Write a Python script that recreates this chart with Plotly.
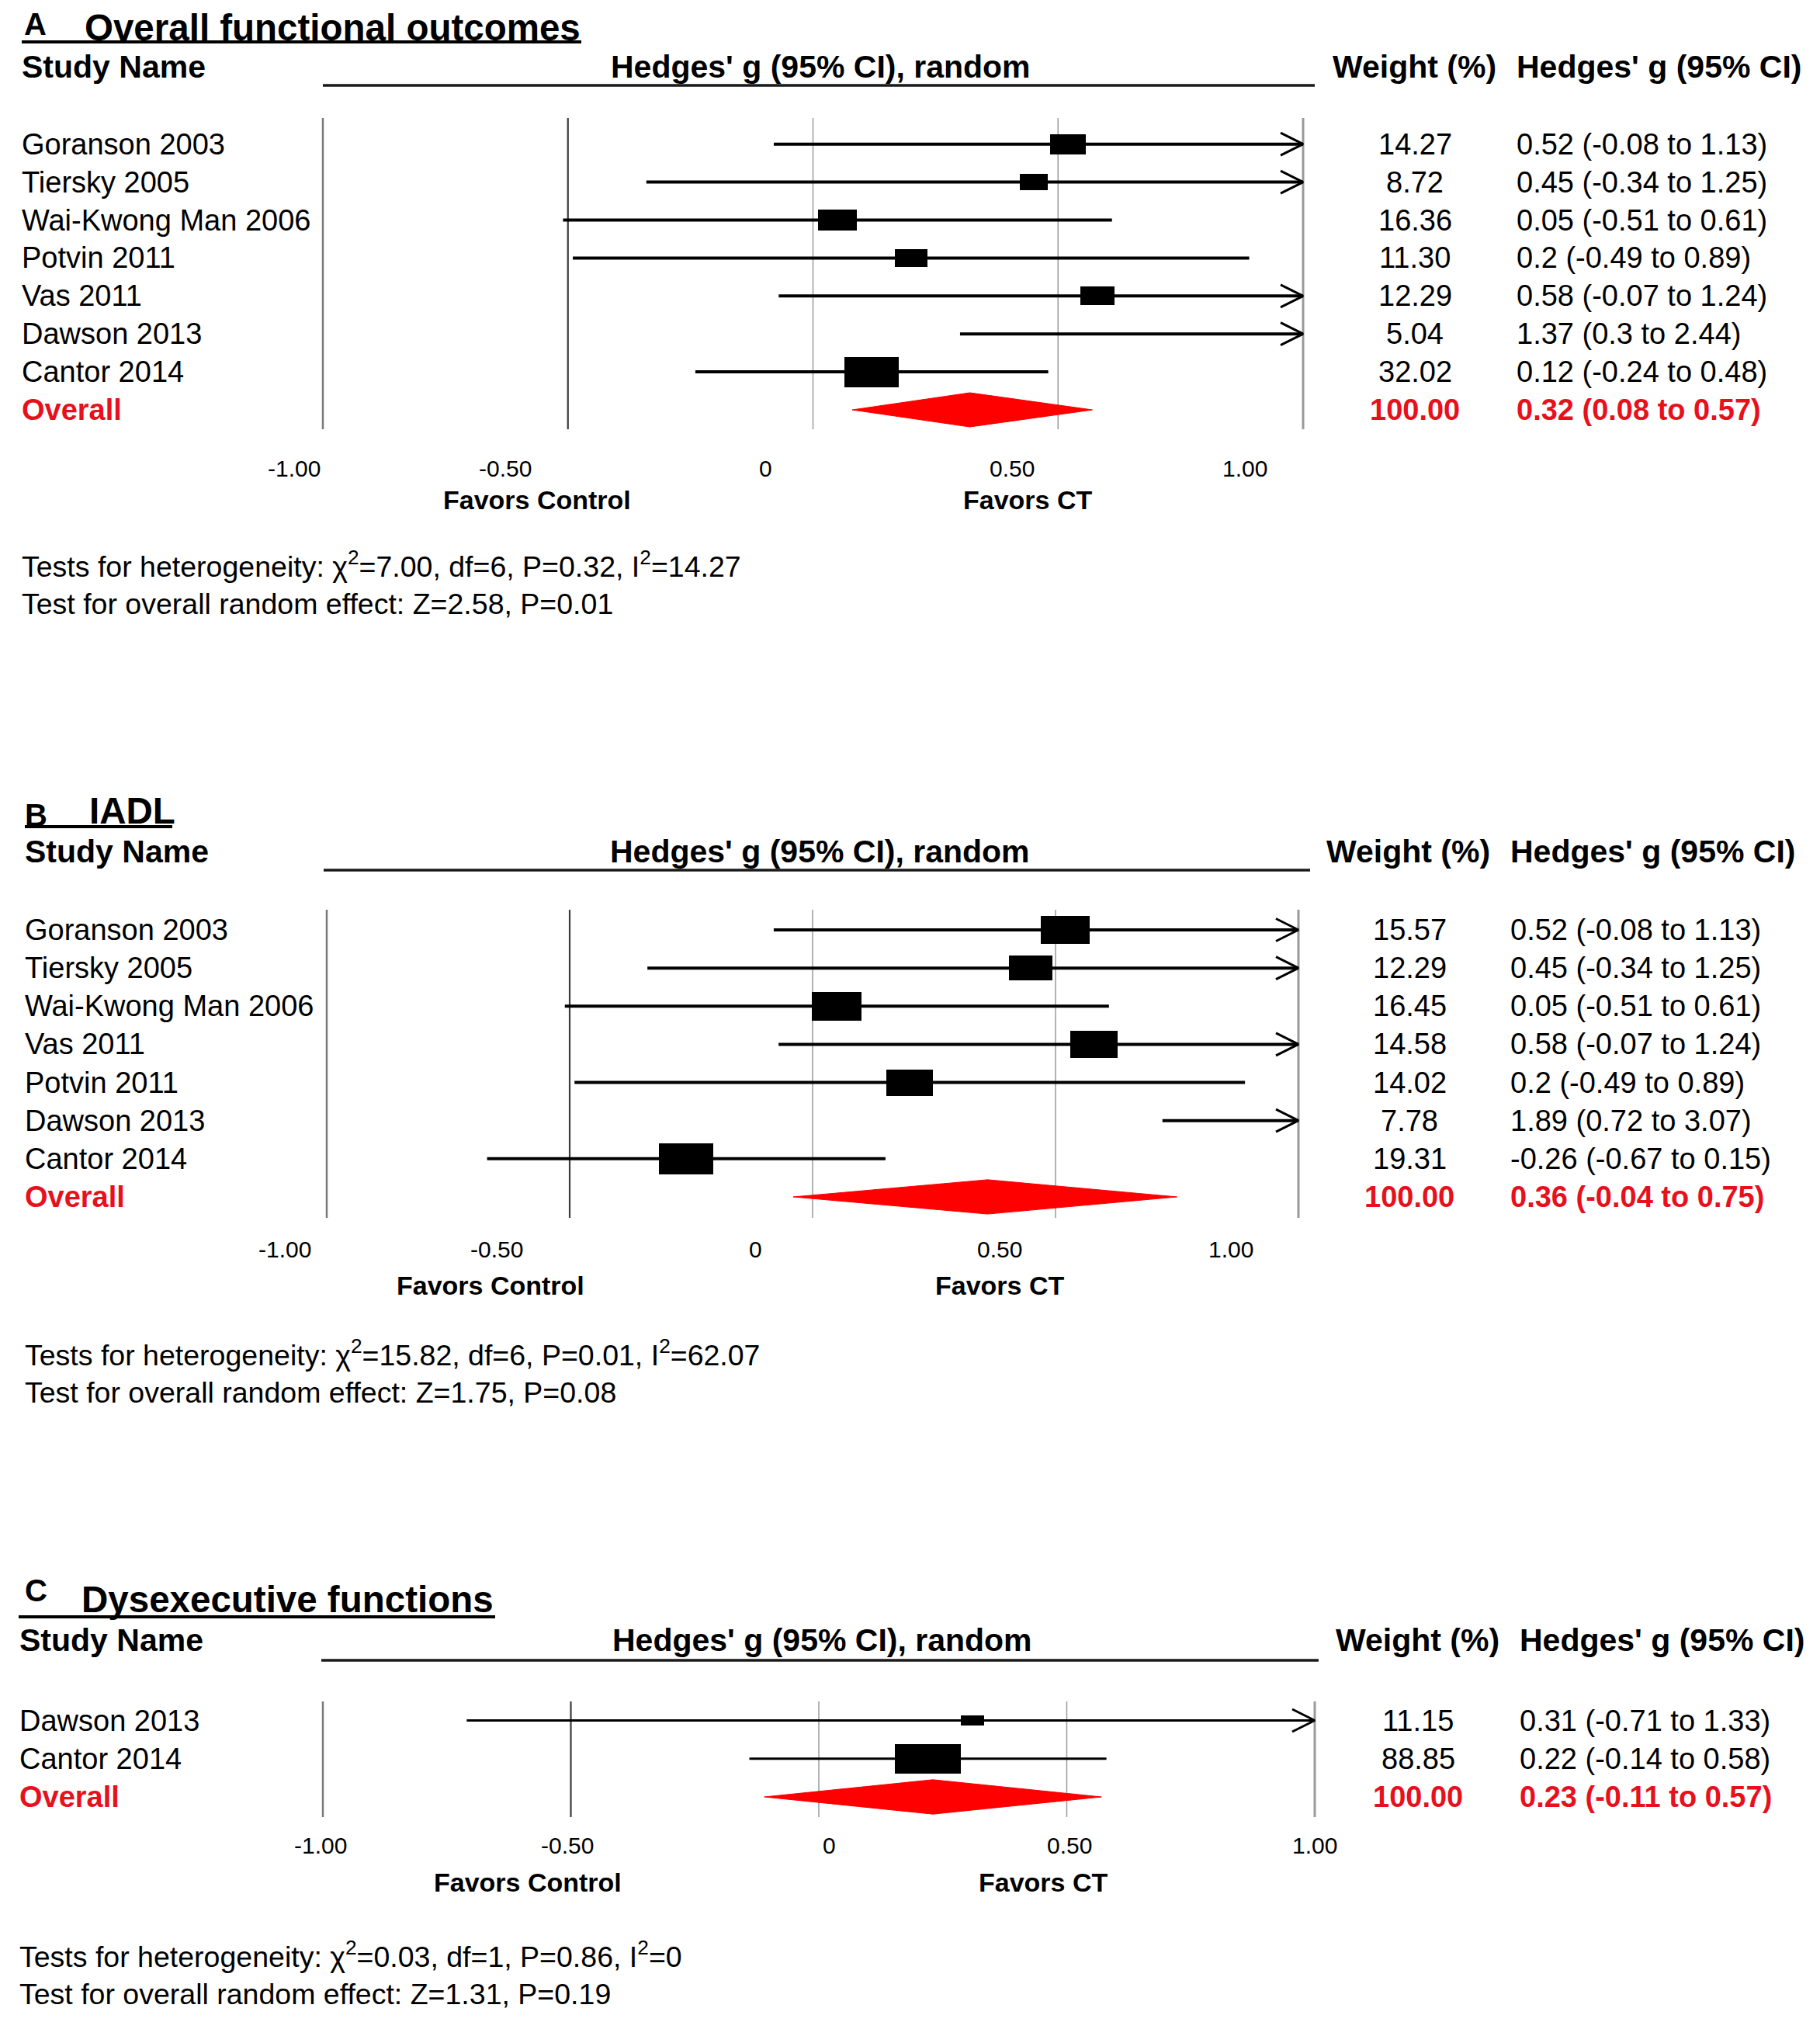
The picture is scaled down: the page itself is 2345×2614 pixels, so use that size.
import math
import plotly.graph_objects as go

W, H = 2345, 2614
OFF = 8  # default page body margin of the written html
FONT = "Liberation Sans, Arial, sans-serif"
RED_TEXT = "#e8101c"
RED_FILL = "#ff0000"

# ---------------- data ----------------
# Panel A: Overall functional outcomes
a_studies = ["Goranson 2003", "Tiersky 2005", "Wai-Kwong Man 2006", "Potvin 2011",
             "Vas 2011", "Dawson 2013", "Cantor 2014"]
a_g = [0.52, 0.45, 0.05, 0.20, 0.58, 1.37, 0.12]
a_lo = [-0.08, -0.34, -0.51, -0.49, -0.07, 0.30, -0.24]
a_hi = [1.13, 1.25, 0.61, 0.89, 1.24, 2.44, 0.48]
a_weight = [14.27, 8.72, 16.36, 11.30, 12.29, 5.04, 32.02]
a_weight_text = ["14.27", "8.72", "16.36", "11.30", "12.29", "5.04", "32.02"]
a_ci_text = ["0.52 (-0.08 to 1.13)", "0.45 (-0.34 to 1.25)", "0.05 (-0.51 to 0.61)",
             "0.2 (-0.49 to 0.89)", "0.58 (-0.07 to 1.24)", "1.37 (0.3 to 2.44)",
             "0.12 (-0.24 to 0.48)"]
a_overall = [0.32, 0.08, 0.57]
a_overall_weight_text = "100.00"
a_overall_ci_text = "0.32 (0.08 to 0.57)"
a_tests = ["Tests for heterogeneity: χ<sup>2</sup>=7.00, df=6, P=0.32, I<sup>2</sup>=14.27",
           "Test for overall random effect: Z=2.58, P=0.01"]

# Panel B: IADL
b_studies = ["Goranson 2003", "Tiersky 2005", "Wai-Kwong Man 2006", "Vas 2011",
             "Potvin 2011", "Dawson 2013", "Cantor 2014"]
b_g = [0.52, 0.45, 0.05, 0.58, 0.20, 1.89, -0.26]
b_lo = [-0.08, -0.34, -0.51, -0.07, -0.49, 0.72, -0.67]
b_hi = [1.13, 1.25, 0.61, 1.24, 0.89, 3.07, 0.15]
b_weight = [15.57, 12.29, 16.45, 14.58, 14.02, 7.78, 19.31]
b_weight_text = ["15.57", "12.29", "16.45", "14.58", "14.02", "7.78", "19.31"]
b_ci_text = ["0.52 (-0.08 to 1.13)", "0.45 (-0.34 to 1.25)", "0.05 (-0.51 to 0.61)",
             "0.58 (-0.07 to 1.24)", "0.2 (-0.49 to 0.89)", "1.89 (0.72 to 3.07)",
             "-0.26 (-0.67 to 0.15)"]
b_overall = [0.36, -0.04, 0.75]
b_overall_weight_text = "100.00"
b_overall_ci_text = "0.36 (-0.04 to 0.75)"
b_tests = ["Tests for heterogeneity: χ<sup>2</sup>=15.82, df=6, P=0.01, I<sup>2</sup>=62.07",
           "Test for overall random effect: Z=1.75, P=0.08"]

# Panel C: Dysexecutive functions
c_studies = ["Dawson 2013", "Cantor 2014"]
c_g = [0.31, 0.22]
c_lo = [-0.71, -0.14]
c_hi = [1.33, 0.58]
c_weight = [11.15, 88.85]
c_weight_text = ["11.15", "88.85"]
c_ci_text = ["0.31 (-0.71 to 1.33)", "0.22 (-0.14 to 0.58)"]
c_overall = [0.23, -0.11, 0.57]
c_overall_weight_text = "100.00"
c_overall_ci_text = "0.23 (-0.11 to 0.57)"
c_tests = ["Tests for heterogeneity: χ<sup>2</sup>=0.03, df=1, P=0.86, I<sup>2</sup>=0",
           "Test for overall random effect: Z=1.31, P=0.19"]

grid_values = [-1.0, -0.5, 0.0, 0.5, 1.0]
tick_labels = ["-1.00", "-0.50", "0", "0.50", "1.00"]
x_clip = [-1.0, 1.0]

# ---------------- layout constants (pixels) ----------------
panels = [
    dict(letter="A", title="Overall functional outcomes",
         studies=a_studies, g=a_g, lo=a_lo, hi=a_hi, w=a_weight, wt=a_weight_text, ci=a_ci_text,
         ov=a_overall, ovw=a_overall_weight_text, ovci=a_overall_ci_text, tests=a_tests,
         letter_xy=(30, 31), title_xy=(108, 35), uline=(28, 749, 54),
         head_y=86, head_rule=(416, 1694, 110), name_x=27, hedges_x=1057,
         weight_head_x=1822, weight_x=1823, ci_head_x=1953, ci_x=1953,
         zero=1047.5, unit=631.5, grid_top=152, grid_bot=553, row0=185.7, step=48.9,
         tick_px=[379, 651, 986, 1304, 1604], tick_y=603,
         favors_x=(692, 1324), favors_y=644, tests_x=27, tests_y=(727, 778),
         box_max=(70, 39), ci_lw=4),
    dict(letter="B", title="IADL",
         studies=b_studies, g=b_g, lo=b_lo, hi=b_hi, w=b_weight, wt=b_weight_text, ci=b_ci_text,
         ov=b_overall, ovw=b_overall_weight_text, ovci=b_overall_ci_text, tests=b_tests,
         letter_xy=(31, 1050), title_xy=(114, 1044), uline=(32, 222, 1065),
         head_y=1097, head_rule=(417, 1688, 1121), name_x=31, hedges_x=1056,
         weight_head_x=1815, weight_x=1816, ci_head_x=1945, ci_x=1945,
         zero=1047, unit=626, grid_top=1172, grid_bot=1569, row0=1198, step=49.14,
         tick_px=[367, 640, 973, 1288, 1586], tick_y=1609,
         favors_x=(632, 1288), favors_y=1656, tests_x=31, tests_y=(1743, 1794),
         box_max=(70, 40), ci_lw=4),
    dict(letter="C", title="Dysexecutive functions",
         studies=c_studies, g=c_g, lo=c_lo, hi=c_hi, w=c_weight, wt=c_weight_text, ci=c_ci_text,
         ov=c_overall, ovw=c_overall_weight_text, ovci=c_overall_ci_text, tests=c_tests,
         letter_xy=(31, 2049), title_xy=(104, 2060), uline=(24, 638, 2083),
         head_y=2113, head_rule=(414, 1699, 2139), name_x=24, hedges_x=1059,
         weight_head_x=1826, weight_x=1827, ci_head_x=1957, ci_x=1957,
         zero=1055, unit=639, grid_top=2192, grid_bot=2341, row0=2216.5, step=49.25,
         tick_px=[413, 731, 1068, 1378, 1694], tick_y=2377,
         favors_x=(680, 1344), favors_y=2425, tests_x=24, tests_y=(2518, 2569),
         box_max=(85, 38), ci_lw=3),
]

grid_styles = [("#7a7a7a", 2.5), ("#3c3c3c", 2.2), ("#9a9a9a", 1.5), ("#9a9a9a", 1.5), ("#9a9a9a", 3)]

SZ_TITLE, SZ_LETTER, SZ_HEAD, SZ_ROW, SZ_TICK, SZ_FAV, SZ_TEST = 47.5, 40, 41, 38, 30, 34, 37.5


def px(x):
    return (x - OFF) / W


def py(y):
    return 1 - (y - OFF) / H


fig = go.Figure()
annotations = []
shapes = []
layout_axes = {}


def text(x, y, s, size, bold=False, color="black", xanchor="left", xref="paper", yref="paper"):
    if bold:
        s = "<b>" + s + "</b>"
    annotations.append(dict(x=x, y=y, xref=xref, yref=yref, text=s, showarrow=False,
                            xanchor=xanchor, yanchor="middle", borderpad=0,
                            font=dict(family=FONT, size=size, color=color)))


for i, p in enumerate(panels):
    suf = "" if i == 0 else str(i + 1)
    xa, ya = "x" + suf, "y" + suf
    n = len(p["studies"])
    rows = list(range(n))
    ov_row = n

    # axes
    xr = [-1.1, 1.1]
    layout_axes["xaxis" + suf] = dict(
        domain=[px(p["zero"] + xr[0] * p["unit"]), px(p["zero"] + xr[1] * p["unit"])],
        range=xr, showgrid=False, zeroline=False, showticklabels=False, showline=False,
        anchor=ya, fixedrange=True)
    layout_axes["yaxis" + suf] = dict(
        domain=[py(p["grid_bot"]), py(p["grid_top"])],
        range=[(p["grid_bot"] - p["row0"]) / p["step"], (p["grid_top"] - p["row0"]) / p["step"]],
        showgrid=False, zeroline=False, showticklabels=False, showline=False,
        anchor=xa, fixedrange=True)

    # gridlines
    for gv, (gc, gw) in zip(grid_values, grid_styles):
        shapes.append(dict(type="line", xref=xa, yref=ya + " domain", x0=gv, x1=gv, y0=0, y1=1,
                           line=dict(color=gc, width=gw), layer="below"))

    # CI lines and arrow heads for truncated intervals
    lx, ly = [], []
    ax, ay = [], []
    depth = 29 / p["unit"]
    hh = 14.5 / p["step"]
    for r, lo, hi in zip(rows, p["lo"], p["hi"]):
        lo_c = max(lo, x_clip[0])
        hi_c = min(hi, x_clip[1])
        lx += [lo_c, hi_c, None]
        ly += [r, r, None]
        if hi > x_clip[1]:
            ax += [x_clip[1] - depth, x_clip[1], x_clip[1] - depth, None]
            ay += [r - hh, r, r + hh, None]
    fig.add_trace(go.Scatter(x=lx, y=ly, mode="lines", xaxis=xa, yaxis=ya,
                             line=dict(color="black", width=p["ci_lw"]), hoverinfo="skip",
                             showlegend=False))
    if ax:
        fig.add_trace(go.Scatter(x=ax, y=ay, mode="lines", xaxis=xa, yaxis=ya,
                                 line=dict(color="black", width=3), hoverinfo="skip",
                                 showlegend=False))

    # weight boxes (size grows with the study weight)
    wmax = max(p["w"])
    bw = [p["box_max"][0] / p["unit"] * math.sqrt(w / wmax) for w in p["w"]]
    bh = [p["box_max"][1] / p["step"] * math.sqrt(w / wmax) for w in p["w"]]
    fig.add_trace(go.Bar(x=bw, base=[g - b / 2 for g, b in zip(p["g"], bw)], y=rows, width=bh,
                         orientation="h", xaxis=xa, yaxis=ya,
                         marker=dict(color="black", line=dict(width=0)),
                         hoverinfo="skip", showlegend=False))

    # overall diamond
    og, olo, ohi = p["ov"]
    dh = 0.45
    fig.add_trace(go.Scatter(x=[olo, og, ohi, og, olo], y=[ov_row, ov_row - dh, ov_row, ov_row + dh, ov_row],
                             mode="lines", fill="toself", fillcolor=RED_FILL,
                             line=dict(color=RED_FILL, width=1), xaxis=xa, yaxis=ya,
                             hoverinfo="skip", showlegend=False))

    # titles
    text(px(p["letter_xy"][0]), py(p["letter_xy"][1]), p["letter"], SZ_LETTER, bold=True)
    text(px(p["title_xy"][0]), py(p["title_xy"][1]), p["title"], SZ_TITLE, bold=True)
    u0, u1, uy = p["uline"]
    shapes.append(dict(type="line", xref="paper", yref="paper", x0=px(u0), x1=px(u1),
                       y0=py(uy), y1=py(uy), line=dict(color="black", width=4)))

    # header
    text(px(p["name_x"]), py(p["head_y"]), "Study Name", SZ_HEAD, bold=True)
    text(px(p["hedges_x"]), py(p["head_y"]), "Hedges' g (95% CI), random", SZ_HEAD, bold=True, xanchor="center")
    text(px(p["weight_head_x"]), py(p["head_y"]), "Weight (%)", SZ_HEAD, bold=True, xanchor="center")
    text(px(p["ci_head_x"]), py(p["head_y"]), "Hedges' g (95% CI)", SZ_HEAD, bold=True)
    r0, r1, ry = p["head_rule"]
    shapes.append(dict(type="line", xref="paper", yref="paper", x0=px(r0), x1=px(r1),
                       y0=py(ry), y1=py(ry), line=dict(color="#1a1a1a", width=3.5)))

    # row texts
    for r, name, wt, ci in zip(rows, p["studies"], p["wt"], p["ci"]):
        text(px(p["name_x"]), r, name, SZ_ROW, yref=ya)
        text(px(p["weight_x"]), r, wt, SZ_ROW, xanchor="center", yref=ya)
        text(px(p["ci_x"]), r, ci, SZ_ROW, yref=ya)
    text(px(p["name_x"]), ov_row, "Overall", SZ_ROW, bold=True, color=RED_TEXT, yref=ya)
    text(px(p["weight_x"]), ov_row, p["ovw"], SZ_ROW, bold=True, color=RED_TEXT, xanchor="center", yref=ya)
    text(px(p["ci_x"]), ov_row, p["ovci"], SZ_ROW, bold=True, color=RED_TEXT, yref=ya)

    # tick labels (placed as in the reference, offset from the gridlines)
    for tx, tl in zip(p["tick_px"], tick_labels):
        text(px(tx), py(p["tick_y"]), tl, SZ_TICK, xanchor="center")

    # favors labels
    text(px(p["favors_x"][0]), py(p["favors_y"]), "Favors Control", SZ_FAV, bold=True, xanchor="center")
    text(px(p["favors_x"][1]), py(p["favors_y"]), "Favors CT", SZ_FAV, bold=True, xanchor="center")

    # tests
    for ty, tt in zip(p["tests_y"], p["tests"]):
        text(px(p["tests_x"]), py(ty), tt, SZ_TEST)

fig.update_layout(
    width=W, height=H, autosize=False,
    margin=dict(l=0, r=0, t=0, b=0),
    paper_bgcolor="white", plot_bgcolor="white",
    barmode="overlay", bargap=0,
    annotations=annotations, shapes=shapes,
    showlegend=False,
    **layout_axes,
)

fig.write_html("out.html")
